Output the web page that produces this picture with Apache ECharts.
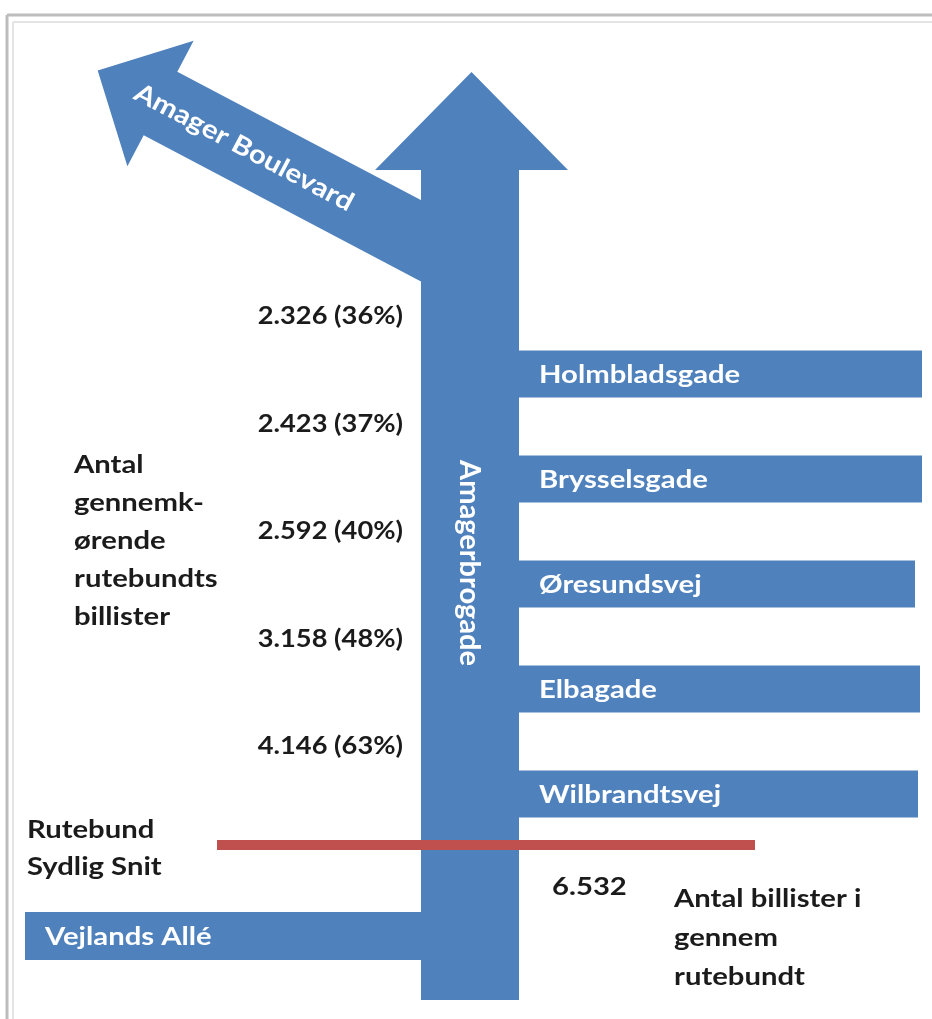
<!DOCTYPE html>
<html>
<head>
<meta charset="utf-8">
<title>Rutebundt Amagerbrogade</title>
<script src="https://cdn.jsdelivr.net/npm/echarts@6/dist/echarts.min.js"></script>
<style>
  html, body { margin: 0; padding: 0; background: #fff; }
  #chart { width: 932px; height: 1019px; }
</style>
</head>
<body>
<div id="chart"></div>
<script>
// sidegader langs Amagerbrogade, nord -> syd
const sideStreets = ['Holmbladsgade', 'Brysselsgade', 'Øresundsvej', 'Elbagade', 'Wilbrandtsvej'];
// gennemkørende rutebundts billister nord for hver sidegade
const throughCounts = [2326, 2423, 2592, 3158, 4146];
const throughShares = [36, 37, 40, 48, 63];
const mainStreet = 'Amagerbrogade';
const exitStreet = 'Amager Boulevard';
const entryStreet = 'Vejlands Allé';
const totalCount = 6532;

const W = 932, H = 1019;
const BLUE = '#4f81bd';
const RED = '#c0504d';
const INK = '#1b1b1b';
const FONT = 'Lato, "Open Sans", sans-serif';
const STRETCH = 1.17; // teksten i originalen er strakt lidt i bredden

// layout i akse-enheder (1 enhed = 1 px)
const shaft = { x0: 421, x1: 519, top: 170, bottom: 1000, headL: 375, headR: 568, tip: 72 };
const rowTop = 374, rowStep = 105, barH = 47;
const barEnds = [922, 922, 915, 920, 918];
const labelRight = 403;
const diag = { angle: 27.8 * Math.PI / 180, baseX: 160.5, baseY: 103.5, halfW: 36, headHalfW: 71, headLen: 71, endX: 470 };

const fmt = n => String(n).replace(/\B(?=(\d{3})+(?!\d))/g, '.');
const rowY = i => rowTop + i * rowStep;

function label(text, x, y, opts) {
  opts = opts || {};
  return {
    type: 'text', x: x, y: y,
    rotation: opts.rotation || 0,
    scaleX: opts.scaleX || STRETCH,
    z: opts.z,
    style: {
      text: text, fill: opts.fill || '#fff', fontSize: opts.fontSize || 25, fontWeight: 'bold',
      fontFamily: FONT, align: opts.align || 'left', verticalAlign: opts.verticalAlign || 'middle',
      lineHeight: opts.lineHeight
    }
  };
}

// hovedpil Amagerbrogade
function renderMain(params, api) {
  const s = shaft;
  const mid = (s.headL + s.headR) / 2;
  const pts = [[s.x0, s.bottom], [s.x0, s.top], [s.headL, s.top], [mid, s.tip],
    [s.headR, s.top], [s.x1, s.top], [s.x1, s.bottom]].map(p => api.coord(p));
  const c = api.coord([(s.x0 + s.x1) / 2 - 1, 563]);
  return {
    type: 'group',
    children: [
      { type: 'polygon', shape: { points: pts }, style: { fill: BLUE } },
      label(mainStreet, c[0], c[1], { rotation: -Math.PI / 2, scaleX: 1, fontSize: 29, align: 'center' })
    ]
  };
}

// skrå pil Amager Boulevard
function renderDiag(params, api) {
  const d = diag;
  const ux = -Math.cos(d.angle), uy = -Math.sin(d.angle);
  const nx = Math.sin(d.angle), ny = -Math.cos(d.angle);
  const t = (d.endX - d.baseX) / Math.cos(d.angle);
  const ex = d.baseX + Math.cos(d.angle) * t, ey = d.baseY + Math.sin(d.angle) * t;
  const bx = d.baseX, by = d.baseY;
  const pts = [
    [ex + nx * d.halfW, ey + ny * d.halfW],
    [bx + nx * d.halfW, by + ny * d.halfW],
    [bx + nx * d.headHalfW, by + ny * d.headHalfW],
    [bx + ux * d.headLen, by + uy * d.headLen],
    [bx - nx * d.headHalfW, by - ny * d.headHalfW],
    [bx - nx * d.halfW, by - ny * d.halfW],
    [ex - nx * d.halfW, ey - ny * d.halfW]
  ].map(p => api.coord(p));
  const tt = (244 - bx) / Math.cos(d.angle);
  const c = api.coord([244, by + Math.sin(d.angle) * tt]);
  return {
    type: 'group',
    children: [
      { type: 'polygon', shape: { points: pts }, style: { fill: BLUE } },
      label(exitStreet, c[0], c[1], { rotation: -d.angle, scaleX: 1.14, fontSize: 26, align: 'center' })
    ]
  };
}

// sidegader mod øst
function renderSide(params, api) {
  const i = params.dataIndex;
  const y = api.value(1);
  const p0 = api.coord([api.value(0), y - barH / 2]);
  const p1 = api.coord([barEnds[i], y + barH / 2]);
  const tp = api.coord([api.value(0) + 20, y + 1]);
  return {
    type: 'group',
    children: [
      { type: 'rect', shape: { x: p0[0], y: p0[1], width: p1[0] - p0[0], height: p1[1] - p0[1] }, style: { fill: BLUE } },
      label(sideStreets[i], tp[0], tp[1])
    ]
  };
}

// Vejlands Allé fra vest
function renderEntry(params, api) {
  const p0 = api.coord([25, 912]);
  const p1 = api.coord([470, 960]);
  const tp = api.coord([45, 937]);
  return {
    type: 'group',
    children: [
      { type: 'rect', shape: { x: p0[0], y: p0[1], width: p1[0] - p0[0], height: p1[1] - p0[1] }, style: { fill: BLUE } },
      label(entryStreet, tp[0], tp[1])
    ]
  };
}

function renderCounts(params, api) {
  const i = params.dataIndex;
  const p = api.coord([api.value(0), api.value(1)]);
  return label(fmt(throughCounts[i]) + ' (' + throughShares[i] + '%)', p[0], p[1],
    { fill: INK, align: 'right', scaleX: 1.09 });
}

function darkText(text, x, y, lh) {
  return label(text, x, y, { fill: INK, verticalAlign: 'top', lineHeight: lh || 38, z: 10 });
}

const chart = echarts.init(document.getElementById('chart'));
chart.setOption({
  animation: false,
  grid: { left: 0, right: 0, top: 0, bottom: 0 },
  xAxis: { type: 'value', min: 0, max: W, show: false },
  yAxis: { type: 'value', min: 0, max: H, inverse: true, show: false },
  graphic: [
    { type: 'line', shape: { x1: 7, y1: 15, x2: W, y2: 15 }, style: { stroke: '#bdbdbd', lineWidth: 3 } },
    { type: 'line', shape: { x1: 7, y1: 15, x2: 7, y2: H }, style: { stroke: '#bdbdbd', lineWidth: 3 } },
    { type: 'line', shape: { x1: 13, y1: 22, x2: W, y2: 22 }, style: { stroke: '#e4e4e4', lineWidth: 2 } },
    { type: 'line', shape: { x1: 13, y1: 22, x2: 13, y2: H }, style: { stroke: '#e4e4e4', lineWidth: 2 } },
    darkText('Antal\ngennemk-\nørende\nrutebundts\nbillister', 74, 446),
    darkText('Rutebund\nSydlig Snit', 27, 811, 37),
    darkText(fmt(totalCount), 552, 868),
    darkText('Antal billister i\ngennem\nrutebundt', 674, 879, 39)
  ],
  series: [
    { type: 'custom', name: exitStreet, renderItem: renderDiag, data: [[0, 0]], silent: true, z: 2 },
    { type: 'custom', name: mainStreet, renderItem: renderMain, data: [[0, 0]], silent: true, z: 3 },
    { type: 'custom', name: 'sidegader', renderItem: renderSide, silent: true, z: 2,
      data: sideStreets.map((name, i) => ({ name: name, value: [shaft.x1, rowY(i)] })) },
    { type: 'custom', name: entryStreet, renderItem: renderEntry, data: [[0, 0]], silent: true, z: 2 },
    { type: 'custom', name: 'gennemkørende', renderItem: renderCounts, silent: true, z: 4,
      data: throughCounts.map((v, i) => ({ value: [labelRight, rowY(i) - 58 + i * 2.5, v] })) },
    { type: 'line', name: 'Sydlig Snit', data: [[217, 845], [755, 845]], showSymbol: false, silent: true, z: 5,
      lineStyle: { color: RED, width: 10, cap: 'butt' } }
  ]
});
</script>
</body>
</html>
